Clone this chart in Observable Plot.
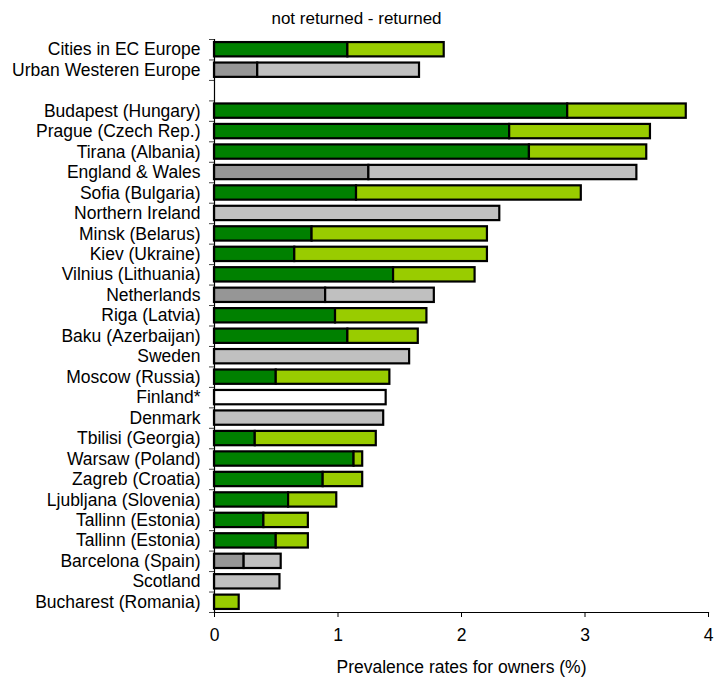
<!DOCTYPE html>
<html>
<head>
<meta charset="utf-8">
<script src="https://cdn.jsdelivr.net/npm/d3@7"></script>
<script src="https://cdn.jsdelivr.net/npm/@observablehq/plot@0.6"></script>
<style>
  body { margin: 0; background: #fff; }
  #chart svg { display: block; }
</style>
</head>
<body>
<div id="chart"></div>
<script>
// Row labels, top to bottom ("" is the spacer row between the summary and the cities/countries)
const labels = [
  "Cities in EC Europe", "Urban Westeren Europe", "",
  "Budapest (Hungary)", "Prague (Czech Rep.)", "Tirana (Albania)", "England & Wales",
  "Sofia (Bulgaria)", "Northern Ireland", "Minsk (Belarus)", "Kiev (Ukraine)",
  "Vilnius (Lithuania)", "Netherlands", "Riga (Latvia)", "Baku (Azerbaijan)",
  "Sweden", "Moscow (Russia)", "Finland*", "Denmark", "Tbilisi (Georgia)",
  "Warsaw (Poland)", "Zagreb (Croatia)", "Ljubljana (Slovenia)", "Tallinn (Estonia)",
  "Tallinn (Estonia)", "Barcelona (Spain)", "Scotland", "Bucharest (Romania)"
];

// Group of each row: "east" (green), "west" (grey), "none" (white), null = spacer
const groups = [
  "east", "west", null,
  "east", "east", "east", "west",
  "east", "west", "east", "east",
  "east", "west", "east", "east",
  "west", "east", "none", "west", "east",
  "east", "east", "east", "east",
  "east", "west", "west", "east"
];

// Prevalence among owners whose animal was not returned (%), null = not split
const notReturned = [
  1.08, 0.35, null,
  2.86, 2.39, 2.55, 1.25,
  1.15, null, 0.79, 0.65,
  1.45, 0.90, 0.98, 1.08,
  null, 0.50, null, null, 0.33,
  1.13, 0.88, 0.60, 0.40,
  0.50, 0.24, null, null
];

// Total prevalence rate for owners (%), not returned + returned
const total = [
  1.86, 1.66, null,
  3.82, 3.53, 3.50, 3.42,
  2.97, 2.31, 2.21, 2.21,
  2.11, 1.78, 1.72, 1.65,
  1.58, 1.42, 1.39, 1.37, 1.31,
  1.20, 1.20, 0.99, 0.76,
  0.76, 0.54, 0.53, 0.20
];

const xTicks = [0, 1, 2, 3, 4];

const palette = {
  east: { dark: "#008000", light: "#99cc00" },
  west: { dark: "#969696", light: "#c0c0c0" },
  none: { dark: "#ffffff", light: "#ffffff" }
};

const ids = labels.map((_, i) => "row" + i);
const labelOf = new Map(ids.map((id, i) => [id, labels[i]]));

// One segment for the "not returned" part and one for the remainder
const segments = [];
ids.forEach((id, i) => {
  const g = groups[i];
  if (g == null || total[i] == null) return;
  const nr = notReturned[i];
  if (nr != null && nr > 0) {
    segments.push({ id, x1: 0, x2: nr, fill: palette[g].dark });
  }
  segments.push({ id, x1: nr ?? 0, x2: total[i], fill: palette[g].light });
});

const width = 714, height = 678;
const marginTop = 39, marginBottom = 66, marginLeft = 214, marginRight = 6;
const step = (height - marginTop - marginBottom) / ids.length;
const font = "'Liberation Sans', Arial, sans-serif";

const chart = Plot.plot({
  width, height, marginTop, marginBottom, marginLeft, marginRight,
  style: { fontFamily: font, fontSize: "17px", color: "#000", background: "#fff" },
  x: { domain: [0, 4], axis: null },
  y: { domain: ids, paddingInner: 0.3, paddingOuter: 0.15, round: false, axis: null },
  color: { type: "identity" },
  marks: [
    Plot.barX(segments, {
      y: "id", x1: "x1", x2: "x2", fill: "fill",
      stroke: "#000", strokeWidth: 2.2
    }),
    // category labels
    Plot.axisY({
      tickSize: 0, tickPadding: 14, fontSize: 17.5,
      tickFormat: (d) => labelOf.get(d), label: null
    }),
    // tick marks between categories
    Plot.axisY({
      tickSize: 5, tickFormat: () => "", label: null,
      dy: -step / 2, stroke: "#444"
    }),
    Plot.axisY({
      ticks: [ids[ids.length - 1]], tickSize: 5, tickFormat: () => "",
      label: null, dy: step / 2, stroke: "#444"
    }),
    Plot.ruleX([0], { stroke: "#000", strokeWidth: 1.2 }),
    Plot.axisX({
      ticks: xTicks, tickFormat: "d", tickSize: 5, tickPadding: 11, fontSize: 17.5,
      label: null, stroke: "#000"
    }),
    Plot.frame({ anchor: "bottom", stroke: "#000", strokeWidth: 1.2 }),
    Plot.text(["Prevalence rates for owners (%)"], {
      frameAnchor: "bottom", dy: 55, fontSize: 17.5, lineAnchor: "middle"
    }),
    Plot.text(["not returned - returned"], {
      frameAnchor: "top-left", dx: 142, dy: -21, fontSize: 17,
      textAnchor: "middle", lineAnchor: "middle"
    })
  ]
});

document.getElementById("chart").appendChild(chart);
</script>
</body>
</html>
